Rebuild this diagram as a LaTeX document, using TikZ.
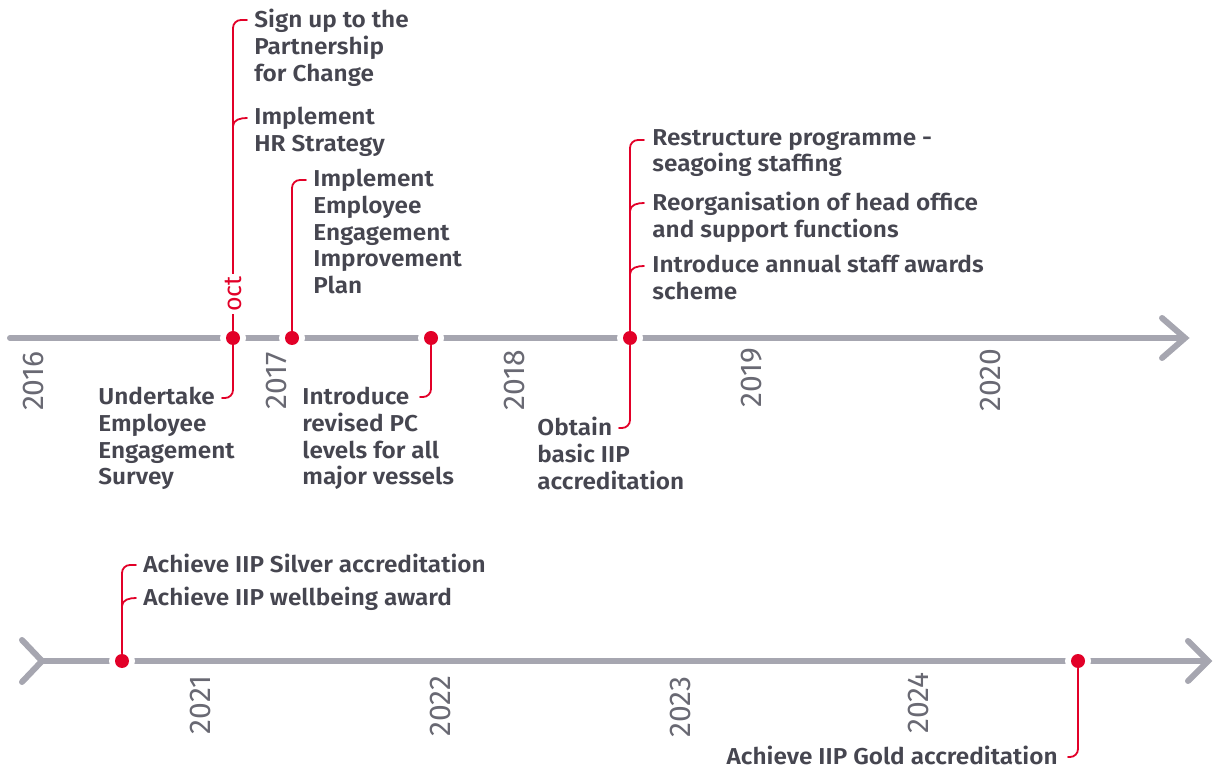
\documentclass[tikz,border=0pt]{standalone}
\usepackage{fontspec}
\setmainfont{Fira Sans}[BoldFont={Fira Sans SemiBold}, BoldFeatures={FakeStretch=1.06}]
\usetikzlibrary{positioning}

\definecolor{axisgrey}{RGB}{166,166,176}
\definecolor{yeargrey}{RGB}{105,105,115}
\definecolor{textgrey}{RGB}{70,70,80}
\definecolor{eventred}{RGB}{226,0,40}

\tikzset{
	axis/.style={axisgrey, line width=3pt},
	chevron/.style={axisgrey, line width=3pt, line join=miter},
	gap/.style={circle, fill=white, inner sep=0pt, minimum size=13pt},
	dot/.style={circle, fill=eventred, inner sep=0pt, minimum size=7pt},
	leader/.style={eventred, line width=0.9pt, rounded corners=4pt},
	event/.style={font=\bfseries\fontsize{11.5}{13.3}\selectfont, text=textgrey, align=left, inner sep=0pt, anchor=north west},
	year/.style={rotate=90, text=yeargrey, font=\fontsize{15}{17}\selectfont, inner sep=0pt}
}

\begin{document}
\begin{tikzpicture}[x=0.5pt, y=-0.5pt, line cap=round]
	\useasboundingbox (0,0) rectangle (1215,769);

	% the two axes
	\draw[axis] (10,338) -- (1184,338);
	\draw[chevron] (1162,318) -- (1185,338) -- (1162,358);
	\draw[axis] (42,661) -- (1207,661);
	\draw[chevron] (22,640) -- (42,661) -- (22,682);
	\draw[chevron] (1188,641) -- (1208,661) -- (1188,681);

	% years
	\foreach \yr/\x/\y in {2016/33/381, 2017/276/381, 2018/514/380, 2019/752/378, 2020/990/380,
			2021/200/705, 2022/440/706, 2023/680/707, 2024/918/703}
		\node[year] (y\yr) at (\x,\y) {\yr};

	% events on the axes
	\foreach \n/\x/\y in {d1/233/338, d2/292/338, d3/431/338, d4/630/338, d5/122/661, d6/1078/661}
		\node[gap] (g\n) at (\x,\y) {};

	\path
	(247,20) coordinate (sign)
	(247,118) coordinate (hr)
	(222,398) coordinate (survey)
	(306,180) coordinate (plan)
	(420,397) coordinate (levels)
	(644,140) coordinate (restructure)
	(644,203) coordinate (reorg)
	(644,266) coordinate (awards)
	(619,428) coordinate (basic)
	(136,565) coordinate (silver)
	(136,598) coordinate (wellbeing)
	(1068,757) coordinate (gold)
	;

	\node[dot] (d1) at (gd1) {};
	\node[dot] (d2) at (gd2) {};
	\node[dot] (d3) at (gd3) {};
	\node[dot] (d4) at (gd4) {};
	\node[dot] (d5) at (gd5) {};
	\node[dot] (d6) at (gd6) {};

	% leaders
	\draw[leader] (d1) |- (sign);
	\draw[leader] ([yshift=-4pt]d1 |- hr) to[out=90, in=180] (hr);
	\draw[leader] (d1) |- (survey);
	\draw[leader] (d2) |- (plan);
	\draw[leader] (d3) |- (levels);
	\draw[leader] (d4) |- (restructure);
	\draw[leader] ([yshift=-4pt]d4 |- reorg) to[out=90, in=180] (reorg);
	\draw[leader] ([yshift=-4pt]d4 |- awards) to[out=90, in=180] (awards);
	\draw[leader] (d4) |- (basic);
	\draw[leader] (d5) |- (silver);
	\draw[leader] ([yshift=-4pt]d5 |- wellbeing) to[out=90, in=180] (wellbeing);
	\draw[leader] (d6) |- (gold);

	\node[rotate=90, fill=white, inner sep=1pt, text=eventred, font=\fontsize{12.5}{14}\selectfont] (month) at (233,294) {oct};

	% texts
	\node[event] (tsign) at (254,9) {Sign up to the\\Partnership\\for Change};
	\node[event] (thr) at (254,107) {Implement\\HR Strategy};
	\node[event] (tsurvey) at (98,387) {Undertake\\Employee\\Engagement\\Survey};
	\node[event] (tplan) at (313,169) {Implement\\Employee\\Engagement\\Improvement\\Plan};
	\node[event] (tlevels) at (302,387) {Introduce\\revised PC\\levels for all\\major vessels};
	\node[event] (trestructure) at (652,129) {Restructure programme -\\seagoing staffing};
	\node[event] (treorg) at (652,192) {Reorganisation of head office\\and support functions};
	\node[event] (tawards) at (652,255) {Introduce annual staff awards\\scheme};
	\node[event] (tbasic) at (537,417) {Obtain\\basic IIP\\accreditation};
	\node[event] (tsilver) at (143,554) {Achieve IIP Silver accreditation};
	\node[event] (twellbeing) at (143,587) {Achieve IIP wellbeing award};
	\node[event, anchor=north east] (tgold) at (1058,746) {Achieve IIP Gold accreditation};
\end{tikzpicture}
\end{document}
